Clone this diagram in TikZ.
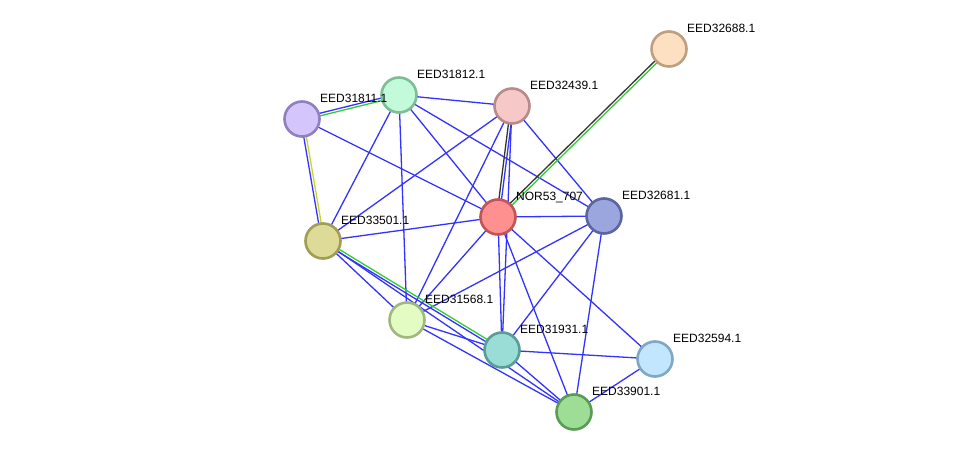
\documentclass[tikz,border=0pt]{standalone}
\usepackage{fontspec}
\setmainfont{Liberation Sans}
\usetikzlibrary{calc,backgrounds}
\definecolor{eblue}{HTML}{3333FF}
\definecolor{egreen}{HTML}{33CC33}
\definecolor{eblack}{HTML}{333333}
\definecolor{eyellow}{HTML}{C8D820}
\definecolor{f32688}{HTML}{FDDFC1}\definecolor{d32688}{HTML}{BE9F80}
\definecolor{f31812}{HTML}{C1FBD9}\definecolor{d31812}{HTML}{7FBC98}
\definecolor{f32439}{HTML}{F6C8C8}\definecolor{d32439}{HTML}{B88A8A}
\definecolor{f31811}{HTML}{D4C5FD}\definecolor{d31811}{HTML}{9080C0}
\definecolor{fnor}{HTML}{FF9090}\definecolor{dnor}{HTML}{C05555}
\definecolor{f32681}{HTML}{9BA5DE}\definecolor{d32681}{HTML}{5A66A0}
\definecolor{f33501}{HTML}{DEDB98}\definecolor{d33501}{HTML}{A09D55}
\definecolor{f31568}{HTML}{E2FCC4}\definecolor{d31568}{HTML}{A0B880}
\definecolor{f31931}{HTML}{99DDD6}\definecolor{d31931}{HTML}{5A9C96}
\definecolor{f32594}{HTML}{C1E6FD}\definecolor{d32594}{HTML}{7FA8C4}
\definecolor{f33901}{HTML}{9DDD95}\definecolor{d33901}{HTML}{5A9C55}
\tikzset{
  prot/.style={circle, minimum size=35pt, inner sep=0pt, line width=2.6pt},
  lab/.style={anchor=base west, inner sep=0pt, font=\fontsize{12}{14}\selectfont},
  edge/.style={line width=1.3pt},
}
\newcommand\dedge[4]{%
  \draw[edge,#1] ($(#3.center)!1.3pt!90:(#4.center)$) -- ($(#4.center)!1.3pt!-90:(#3.center)$);
  \draw[edge,#2] ($(#3.center)!1.3pt!-90:(#4.center)$) -- ($(#4.center)!1.3pt!90:(#3.center)$);}
\newcommand\protnode[3]{%
  \node[prot, fill=f#1, draw=d#1] (p#1) at (#2) {};
  \node[lab] (p#1l) at ($(#2)+(18,-17)$) {#3};}
\begin{document}
\begin{tikzpicture}[x=1pt,y=-1pt]
\useasboundingbox (0,0) rectangle (975,458);
\protnode{32688}{669,49}{EED32688.1}
\protnode{31812}{399,95}{EED31812.1}
\protnode{32439}{512,106}{EED32439.1}
\protnode{31811}{302,119}{EED31811.1}
\protnode{nor}{498,217}{NOR53\_707}
\protnode{32681}{604,216}{EED32681.1}
\protnode{33501}{323,241}{EED33501.1}
\protnode{31568}{407,320}{EED31568.1}
\protnode{31931}{502,350}{EED31931.1}
\protnode{32594}{655,359}{EED32594.1}
\protnode{33901}{574,412}{EED33901.1}
\begin{pgfonlayer}{background}
\foreach \a/\b in {p31811/pnor, p31812/p32439, p31812/pnor, p31812/p32681, p31812/p33501,
  p31812/p31568, p32439/p32681, p32439/p33501, p32439/p31568, p32439/p31931,
  pnor/p32681, pnor/p33501, pnor/p31568, pnor/p31931, pnor/p33901, pnor/p32594,
  p32681/p31568, p32681/p31931, p32681/p33901, p33501/p31568, p33501/p33901,
  p31568/p31931, p31568/p33901, p31931/p32594, p31931/p33901, p32594/p33901}
  \draw[edge,eblue] (\a.center) -- (\b.center);
\dedge{eblue}{egreen}{p31811}{p31812}
\dedge{eyellow}{eblue}{p31811}{p33501}
\dedge{eblue}{eblack}{p32439}{pnor}
\dedge{egreen}{eblack}{p32688}{pnor}
\dedge{egreen}{eblue}{p33501}{p31931}
\end{pgfonlayer}
\end{tikzpicture}
\end{document}
